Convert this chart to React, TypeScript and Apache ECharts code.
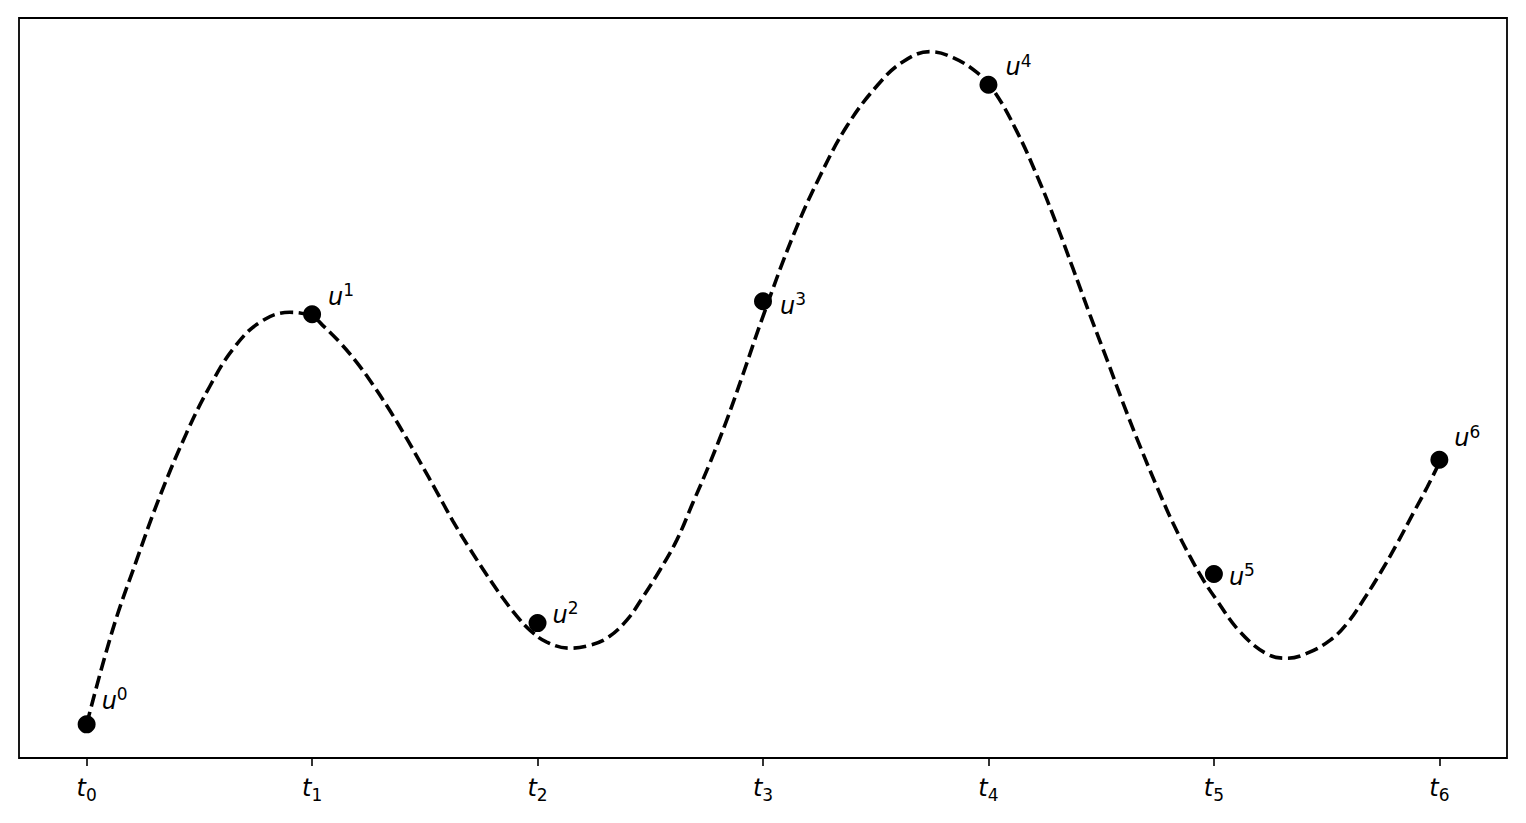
import React, { useEffect, useRef } from "react";
import * as echarts from "echarts";

// knot positions (t_k) and their labels
const knotT = [0, 1, 2, 3, 4, 5, 6];
const knotNames = ["0", "1", "2", "3", "4", "5", "6"];

// data points u^k
const uValues = [0, 4.09, 1.01, 4.22, 6.38, 1.5, 2.64];

const curveT = [
  0.0, 0.115, 0.222, 0.324, 0.444, 0.546, 0.648, 0.768, 0.901, 1.0, 1.047,
  1.123, 1.198, 1.269, 1.345, 1.42, 1.478, 1.553, 1.624, 1.7, 1.775, 1.846,
  1.908, 1.966, 2.041, 2.143, 2.232, 2.308, 2.396, 2.467, 2.543, 2.618, 2.689,
  2.765, 2.84, 2.911, 3.0, 3.133, 3.253, 3.373, 3.506, 3.621, 3.741, 3.843,
  3.95, 4.021, 4.127, 4.229, 4.305, 4.376, 4.451, 4.527, 4.598, 4.673, 4.749,
  4.82, 4.895, 4.953, 5.006, 5.117, 5.237, 5.325, 5.414, 5.516, 5.592, 5.663,
  5.738, 5.814, 5.885, 5.947, 6.0,
];
const curveV = [
  0.0, 0.94, 1.64, 2.27, 2.91, 3.37, 3.74, 4.01, 4.11, 4.07, 3.98, 3.81, 3.61,
  3.39, 3.13, 2.85, 2.62, 2.32, 2.03, 1.75, 1.49, 1.26, 1.08, 0.94, 0.82, 0.76,
  0.79, 0.86, 1.04, 1.27, 1.54, 1.84, 2.21, 2.61, 3.04, 3.49, 4.07, 4.87, 5.47,
  5.97, 6.37, 6.61, 6.71, 6.65, 6.5, 6.33, 5.91, 5.4, 4.97, 4.54, 4.08, 3.63,
  3.2, 2.77, 2.36, 2.0, 1.67, 1.44, 1.26, 0.92, 0.7, 0.66, 0.71, 0.84, 1.01,
  1.24, 1.51, 1.81, 2.11, 2.37, 2.61,
];

// label placement style (offset of the "u" glyph from each point: left, baseline)
const labelShift = [
  [15, -15],
  [16, -9],
  [15, 0],
  [17, 13],
  [17, -9],
  [15, 11],
  [15, -13],
];

const FONT = "DejaVu Sans";

export default function App() {
  const ref = useRef<HTMLDivElement>(null);

  useEffect(() => {
    if (!ref.current) return;
    const chart = echarts.init(ref.current, undefined, { renderer: "svg" });

    const allV = uValues.concat(curveV);
    const vMin = Math.min(...allV);
    const vMax = Math.max(...allV);
    const vPad = 0.05 * (vMax - vMin);
    const tMin = Math.min(...knotT);
    const tMax = Math.max(...knotT);
    const tPad = 0.05 * (tMax - tMin);

    const uRich = {
      u: { fontFamily: FONT, fontStyle: "italic", fontSize: 24, lineHeight: 30, color: "#000" },
      s: { fontFamily: FONT, fontSize: 17, lineHeight: 17, verticalAlign: "top", color: "#000" },
    };

    chart.setOption({
      animation: false,
      backgroundColor: "#fff",
      grid: {
        left: 19,
        right: 19,
        top: 18,
        bottom: 65,
        show: true,
        borderColor: "#000",
        borderWidth: 1.8,
        backgroundColor: "transparent",
      },
      xAxis: {
        type: "value",
        min: tMin - tPad,
        max: tMax + tPad,
        splitLine: { show: false },
        axisLine: { show: false, onZero: false },
        axisTick: {
          show: true,
          customValues: knotT,
          length: 8,
          lineStyle: { color: "#000", width: 1.6 },
        },
        axisLabel: {
          show: true,
          customValues: knotT,
          margin: 15,
          formatter: (v: number) => {
            const i = knotT.indexOf(v);
            return `{t|t}{s|${i >= 0 ? knotNames[i] : ""}}`;
          },
          rich: {
            t: { fontFamily: FONT, fontStyle: "italic", fontSize: 24, lineHeight: 30, color: "#000" },
            s: { fontFamily: FONT, fontSize: 17, lineHeight: 17, verticalAlign: "bottom", color: "#000" },
          },
        },
      },
      yAxis: {
        type: "value",
        min: vMin - vPad,
        max: vMax + vPad,
        splitLine: { show: false },
        axisLine: { show: false },
        axisTick: { show: false },
        axisLabel: { show: false },
      },
      series: [
        {
          type: "line",
          data: curveT.map((t, i) => [t, curveV[i]]),
          smooth: 0.4,
          showSymbol: false,
          symbol: "none",
          lineStyle: { color: "#000", width: 3.6, type: [13, 5.6], opacity: 1 },
          z: 2,
          silent: true,
        },
        {
          type: "scatter",
          symbolSize: 18,
          itemStyle: { color: "#000", opacity: 1 },
          z: 3,
          data: uValues.map((v, i) => ({
            value: [knotT[i], v],
            label: {
              show: true,
              position: "inside",
              align: "left",
              verticalAlign: "top",
              offset: [labelShift[i][0], labelShift[i][1] - 23.4],
              formatter: `{u|u}{s|${knotNames[i]}}`,
              rich: uRich,
              color: "#000",
              opacity: 1,
            },
          })),
        },
      ],
    });

    return () => chart.dispose();
  }, []);

  return (
    <div
      ref={ref}
      style={{ position: "absolute", left: 0, top: 0, width: 1526, height: 823, background: "#fff" }}
    />
  );
}
